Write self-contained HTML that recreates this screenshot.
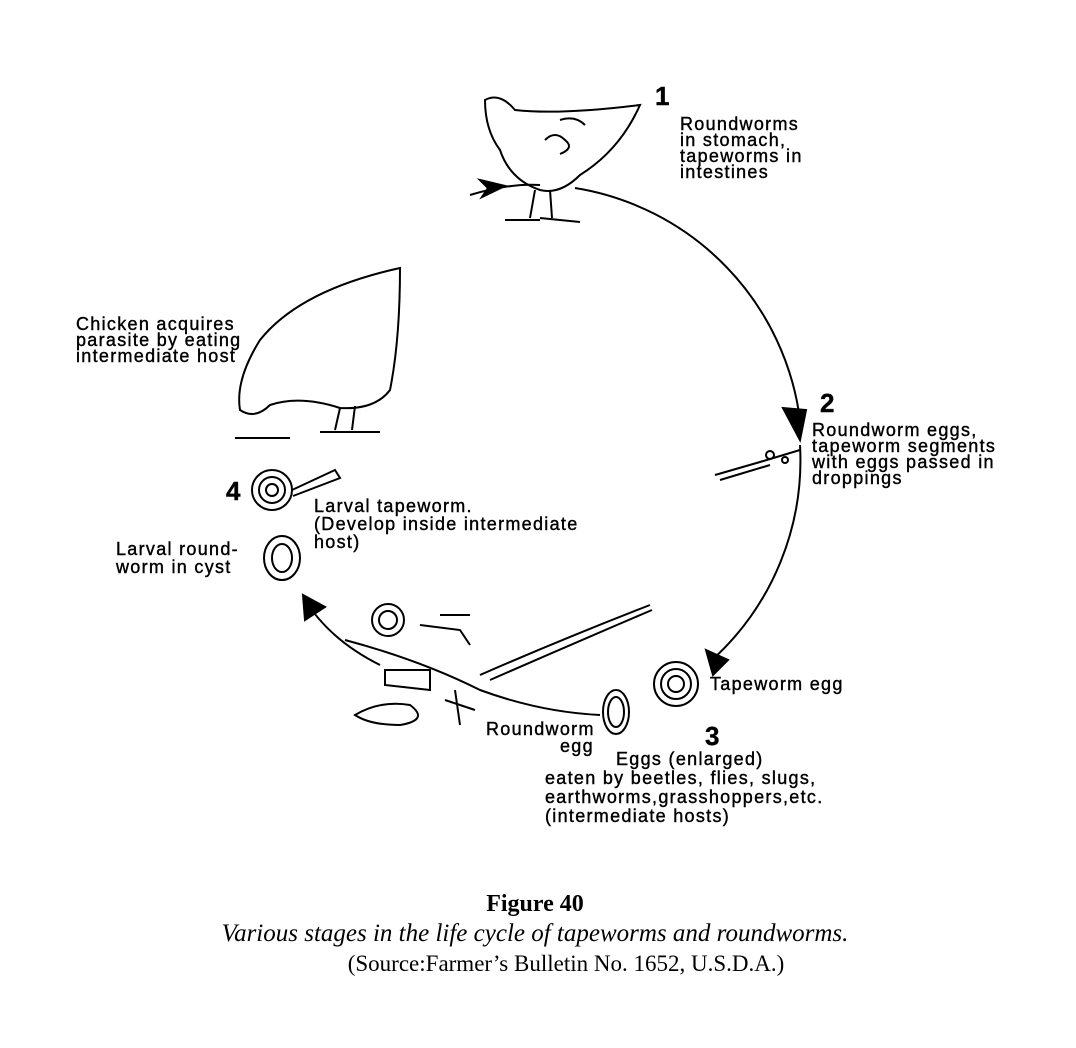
<!DOCTYPE html>
<html><head><meta charset="utf-8"><style>
body{margin:0;background:#fff;}
svg{display:block}
.h{font-family:"Liberation Sans",sans-serif;font-size:18px;fill:#000;letter-spacing:1.3px;stroke:#000;stroke-width:0.4px;}
.c{font-family:"Liberation Serif",serif;fill:#000;}
</style></head><body>
<svg width="1076" height="1048" viewBox="0 0 1076 1048">
<g fill="none" stroke="#000" stroke-width="2">
<path d="M470,195 Q510,183 540,185"/>
<path d="M575,188 A270,270 0 0 1 800,420"/>
<path d="M800,445 A270,270 0 0 1 712,660"/>
<path d="M380,665 Q330,640 305,600"/>
<path d="M480,180 L505,186 L482,197 L488,188 Z" fill="#000"/>
<path d="M783,408 L800,440 L806,410 Z" fill="#000"/>
<path d="M706,650 L713,675 L728,660 Z" fill="#000"/>
<path d="M303,595 L305,620 L325,607 Z" fill="#000"/>
<path d="M485,100 Q500,92 515,110 Q560,115 640,105 Q620,150 580,175 Q560,195 540,190 Q510,180 500,150 Q485,130 485,100 Z"/>
<path d="M535,190 L530,218 M550,190 L552,218 M505,220 L540,220 M540,218 L580,222"/>
<path d="M545,140 q10,-10 20,0 q10,8 -5,14 M560,120 q15,-5 25,5"/>
<path d="M400,268 Q300,290 260,340 Q235,380 240,410 Q255,420 270,405 Q300,395 340,408 Q375,410 390,390 Q400,340 400,268 Z"/>
<path d="M340,408 L335,430 M355,406 L352,430 M235,438 L290,438 M320,432 L380,432"/>
<path d="M715,475 L760,462 L800,450 M720,480 L770,465"/>
<circle cx="770" cy="455" r="4"/><circle cx="785" cy="460" r="3"/>
<circle cx="272" cy="490" r="20"/><circle cx="272" cy="490" r="13"/><circle cx="272" cy="490" r="6"/>
<path d="M292,490 L335,470 L340,478 L293,496"/>
<ellipse cx="282" cy="558" rx="18" ry="22"/><ellipse cx="282" cy="558" rx="10" ry="14"/>
<circle cx="676" cy="684" r="22"/><circle cx="676" cy="684" r="15"/><circle cx="676" cy="684" r="8"/>
<ellipse cx="616" cy="712" rx="13" ry="22"/><ellipse cx="616" cy="712" rx="8" ry="15"/>
<path d="M480,675 Q560,640 650,605"/><path d="M490,680 Q570,645 652,610"/>
<path d="M345,640 Q420,660 480,690 Q540,712 600,715"/>
<circle cx="388" cy="620" r="16"/><circle cx="388" cy="620" r="9"/>
<path d="M420,625 L460,630 L470,645 M440,615 L470,615"/>
<path d="M385,670 L430,670 L430,690 L385,685 Z"/>
<path d="M355,715 Q380,700 410,705 Q430,720 400,725 Q370,725 355,715 Z"/>
<path d="M455,690 L460,725 M445,700 L475,710"/>
</g>
<text x="655" y="105" class="h" style="font-size:26px;font-weight:bold">1</text>
<text class="h" x="680" y="130">Roundworms</text>
<text class="h" x="680" y="146">in stomach,</text>
<text class="h" x="680" y="162">tapeworms in</text>
<text class="h" x="680" y="178">intestines</text>
<text x="820" y="412" class="h" style="font-size:26px;font-weight:bold">2</text>
<text class="h" x="812" y="436">Roundworm eggs,</text>
<text class="h" x="812" y="452">tapeworm segments</text>
<text class="h" x="812" y="468">with eggs passed in</text>
<text class="h" x="812" y="484">droppings</text>
<text class="h" x="76" y="330">Chicken acquires</text>
<text class="h" x="76" y="346">parasite by eating</text>
<text class="h" x="76" y="362">intermediate host</text>
<text x="226" y="500" class="h" style="font-size:26px;font-weight:bold">4</text>
<text class="h" x="314" y="512">Larval tapeworm.</text>
<text class="h" x="314" y="530">(Develop inside intermediate</text>
<text class="h" x="314" y="548">host)</text>
<text class="h" x="116" y="555">Larval round-</text>
<text class="h" x="116" y="573">worm in cyst</text>
<text class="h" x="710" y="690">Tapeworm egg</text>
<text x="705" y="745" class="h" style="font-size:26px;font-weight:bold">3</text>
<text class="h" x="486" y="735">Roundworm</text>
<text class="h" x="560" y="752">egg</text>
<text class="h" x="616" y="765">Eggs (enlarged)</text>
<text class="h" x="545" y="784">eaten by beetles, flies, slugs,</text>
<text class="h" x="545" y="803">earthworms,grasshoppers,etc.</text>
<text class="h" x="545" y="822">(intermediate hosts)</text>
<text class="c" x="535" y="911" text-anchor="middle" style="font-size:24px;font-weight:bold">Figure 40</text>
<text class="c" x="535" y="941" text-anchor="middle" style="font-size:25px;font-style:italic">Various stages in the life cycle of tapeworms and roundworms.</text>
<text class="c" x="566" y="971" text-anchor="middle" style="font-size:23px">(Source:Farmer’s Bulletin No. 1652, U.S.D.A.)</text>
</svg>
</body></html>
